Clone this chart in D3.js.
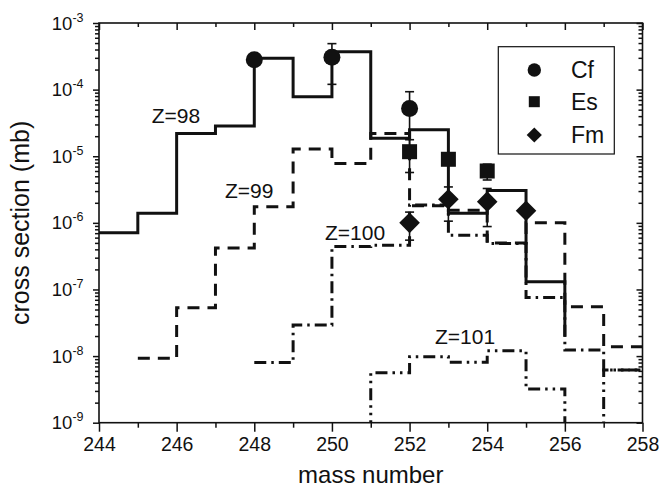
<!DOCTYPE html>
<html><head><meta charset="utf-8">
<script src="https://cdn.jsdelivr.net/npm/d3@7"></script>
<style>
body{margin:0;background:#fff}
text{font-family:"Liberation Sans",Arial,Helvetica,sans-serif;fill:#111}
</style>
</head><body>
<svg id="chart" width="659" height="491"></svg>
<script>
// ---- data ----
const massZ98 = [244,245,246,247,248,249,250,251,252,253,254,255,256];
const xsecZ98 = [7.1e-7,1.39e-6,2.2e-5,2.84e-5,2.95e-4,7.8e-5,3.7e-4,1.86e-5,2.5e-5,1.39e-6,3.05e-6,1.31e-7,1.95e-8];

const massZ99 = [245,246,247,248,249,250,251,252,253,254,255,256,257,258];
const xsecZ99 = [9.3e-9,5.3e-8,4.2e-7,1.75e-6,1.28e-5,7.8e-6,2.2e-5,1.8e-6,1.55e-6,5.0e-7,1.0e-6,5.5e-8,1.38e-8,1.38e-8];

const massZ100 = [248,249,250,251,252,253,254,255,256,257,258];
const xsecZ100 = [8.0e-9,2.93e-8,4.4e-7,4.6e-7,1.86e-6,6.5e-7,4.9e-7,7.6e-8,1.23e-8,6.2e-9,6.2e-9];

const massZ101 = [250,251,252,253,254,255,256,257,258];
const xsecZ101 = [1e-10,5.6e-9,9.8e-9,8.1e-9,1.2e-8,3.2e-9,1e-10,6.2e-9,6.2e-9];

const massCf = [248,250,252];
const xsecCf = [2.8e-4,3.05e-4,5.2e-5];
const errCf  = [0,1.85e-4,4.1e-5];

const massEs = [252,253,254];
const xsecEs = [1.17e-5,9.0e-6,6.0e-6];
const errEs  = [6e-6,0,1.6e-6];

const massFm = [252,253,254,255];
const xsecFm = [1.0e-6,2.26e-6,2.08e-6,1.52e-6];
const errFm  = [0.45e-6,1.2e-6,1.2e-6,0];

const xTickLabels = ["244","246","248","250","252","254","256","258"];
const yTickExponents = [-3,-4,-5,-6,-7,-8,-9];
const legendLabels = ["Cf","Es","Fm"];
const curveLabels = ["Z=98","Z=99","Z=100","Z=101"];
const curveLabelPos = [[151.7,123.3],[225,198.3],[325,240],[435,344]];

// ---- layout ----
const L = 99, R = 642.5, T = 23, B = 422.7;
const svg = d3.select("#chart");
const x = d3.scaleLinear().domain([244,258]).range([L,R]);
const y = d3.scaleLog().domain([1e-9,1e-3]).range([B,T]);
const ink = "#111";

svg.append("defs").append("clipPath").attr("id","clip")
  .append("rect").attr("x",L).attr("y",T).attr("width",R-L).attr("height",B-T);

// ---- step curves ----
const stepLine = d3.line().x(d=>x(d[0])).y(d=>y(d[1])).curve(d3.curveStepAfter);
const curves = [
  {m:massZ98,v:xsecZ98,dash:null},
  {m:massZ99,v:xsecZ99,dash:"12,8"},
  {m:massZ100,v:xsecZ100,dash:"12,5,2.5,5"},
  {m:massZ101,v:xsecZ101,dash:"12,5,2.5,5,2.5,5"}
];
const gc = svg.append("g").attr("clip-path","url(#clip)");
curves.forEach(c=>{
  gc.append("path").attr("d",stepLine(c.m.map((mm,i)=>[mm,c.v[i]])))
    .attr("fill","none").attr("stroke",ink).attr("stroke-width",3)
    .attr("stroke-dasharray",c.dash);
});

// ---- curve labels ----
curveLabels.forEach((t,i)=>{
  svg.append("text").attr("x",curveLabelPos[i][0]).attr("y",curveLabelPos[i][1])
    .attr("font-size",21).text(t);
});

// ---- data points with error bars ----
const gp = svg.append("g");
function errBars(ms,vs,es){
  ms.forEach((mm,i)=>{
    if(!es[i]) return;
    const cx = x(mm), y1 = y(vs[i]+es[i]), y0 = y(Math.max(vs[i]-es[i],1e-12));
    gp.append("line").attr("x1",cx).attr("x2",cx).attr("y1",y1).attr("y2",y0)
      .attr("stroke",ink).attr("stroke-width",1.6);
    [y1,y0].forEach(yy=>gp.append("line").attr("x1",cx-4.5).attr("x2",cx+4.5)
      .attr("y1",yy).attr("y2",yy).attr("stroke",ink).attr("stroke-width",1.6));
  });
}
errBars(massCf,xsecCf,errCf);
errBars(massEs,xsecEs,errEs);
errBars(massFm,xsecFm,errFm);

massCf.forEach((mm,i)=>gp.append("circle").attr("cx",x(mm)).attr("cy",y(xsecCf[i])).attr("r",8.5).attr("fill",ink));
massEs.forEach((mm,i)=>gp.append("rect").attr("x",x(mm)-7.5).attr("y",y(xsecEs[i])-7.5).attr("width",15).attr("height",15).attr("fill",ink));
const diamond = (cx,cy,h)=>`M${cx},${cy-h}L${cx+h},${cy}L${cx},${cy+h}L${cx-h},${cy}Z`;
massFm.forEach((mm,i)=>gp.append("path").attr("d",diamond(x(mm),y(xsecFm[i]),10.3)).attr("fill",ink));

// ---- axes ----
const majorX = d3.range(244,259,2), minorX = d3.range(245,258,2);
const decades = yTickExponents.map(e=>Math.pow(10,e));
const minorY = [];
for(let e=-9;e<-3;e++) for(let k=2;k<=9;k++) minorY.push(k*Math.pow(10,e));

function styleAxis(g){
  g.selectAll(".domain").remove();
  g.selectAll("line").attr("stroke",ink).attr("stroke-width",1.5);
}
// bottom
svg.append("g").attr("transform",`translate(0,${B})`)
  .call(d3.axisBottom(x).tickValues(majorX).tickSizeInner(9).tickSizeOuter(0).tickPadding(5)
    .tickFormat((d,i)=>xTickLabels[i]))
  .call(styleAxis)
  .call(g=>g.selectAll("text").attr("font-size",19.5).attr("fill",ink).attr("font-family",null));
svg.append("g").attr("transform",`translate(0,${B})`)
  .call(d3.axisBottom(x).tickValues(minorX).tickSize(5).tickFormat(""))
  .call(styleAxis);
// top (inward)
svg.append("g").attr("transform",`translate(0,${T})`)
  .call(d3.axisTop(x).tickValues(majorX).tickSize(-7).tickFormat(""))
  .call(styleAxis);
svg.append("g").attr("transform",`translate(0,${T})`)
  .call(d3.axisTop(x).tickValues(minorX).tickSize(-4).tickFormat(""))
  .call(styleAxis);
// left
svg.append("g").attr("transform",`translate(${L},0)`)
  .call(d3.axisLeft(y).tickValues(decades).tickSize(6).tickFormat(""))
  .call(styleAxis);
svg.append("g").attr("transform",`translate(${L},0)`)
  .call(d3.axisLeft(y).tickValues(minorY).tickSize(4).tickFormat(""))
  .call(styleAxis);
// right (inward)
svg.append("g").attr("transform",`translate(${R},0)`)
  .call(d3.axisRight(y).tickValues(decades).tickSize(-6).tickFormat(""))
  .call(styleAxis);
svg.append("g").attr("transform",`translate(${R},0)`)
  .call(d3.axisRight(y).tickValues(minorY).tickSize(-4).tickFormat(""))
  .call(styleAxis);
// frame
svg.append("rect").attr("x",L).attr("y",T).attr("width",R-L).attr("height",B-T)
  .attr("fill","none").attr("stroke",ink).attr("stroke-width",1.6);

// y tick labels 10^n
decades.forEach((d,i)=>{
  const t = svg.append("text").attr("x",83.5).attr("y",y(d)+6.5).attr("text-anchor","end").attr("font-size",18.5);
  t.append("tspan").text("10");
  t.append("tspan").attr("dy",-8).attr("font-size",12.5).text(String(yTickExponents[i]));
});

// axis titles
svg.append("text").attr("x",(L+R)/2).attr("y",483).attr("text-anchor","middle").attr("font-size",24).text("mass number");
svg.append("text").attr("transform",`translate(29,${(T+B)/2}) rotate(-90)`).attr("text-anchor","middle")
  .attr("font-size",25).text("cross section (mb)");

// ---- legend ----
const lg = svg.append("g");
lg.append("rect").attr("x",498.3).attr("y",46.7).attr("width",116).attr("height",107.3)
  .attr("fill","#fff").attr("stroke",ink).attr("stroke-width",1.2);
const rowY = [70,101.7,135];
legendLabels.forEach((lab,i)=>{
  const cy = rowY[i], cx = 534.3;
  if(i===0) lg.append("circle").attr("cx",cx).attr("cy",cy).attr("r",6.7).attr("fill",ink);
  if(i===1) lg.append("rect").attr("x",cx-5.5).attr("y",cy-5.5).attr("width",11).attr("height",11).attr("fill",ink);
  if(i===2) lg.append("path").attr("d",diamond(cx,cy,7.6)).attr("fill",ink);
  lg.append("text").attr("x",571).attr("y",cy+8.2).attr("font-size",23).text(lab);
});
</script>
</body></html>
